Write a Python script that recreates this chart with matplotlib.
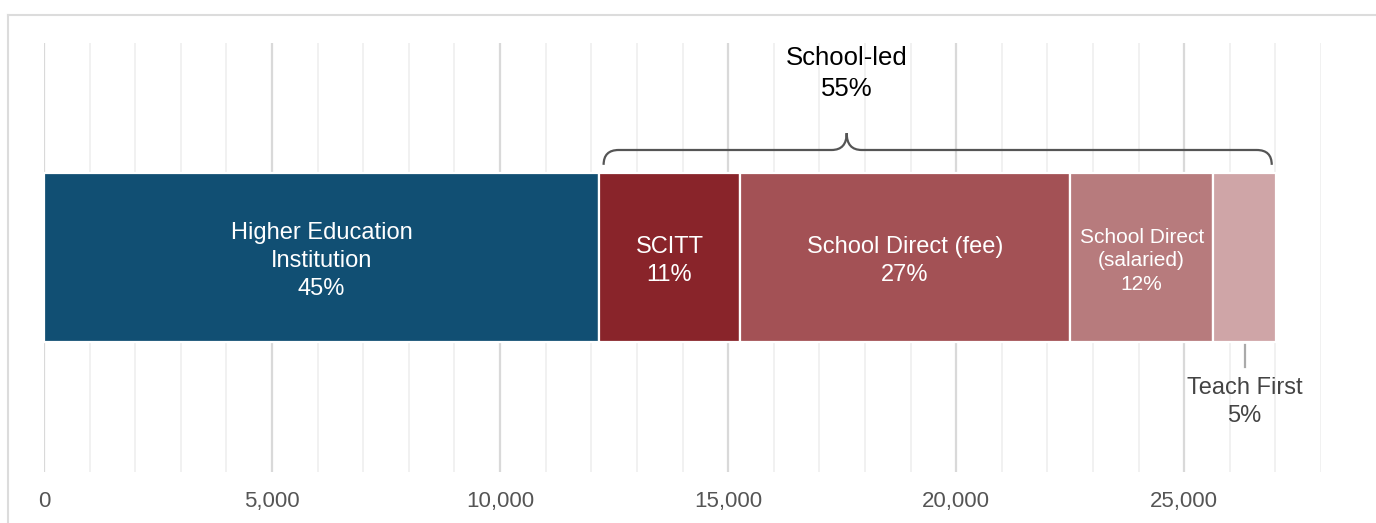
#!/usr/bin/env python3
# -*- coding: utf-8 -*-

#%% Importing the libraries
import numpy as np
import matplotlib.pyplot as plt
from matplotlib.path import Path
from matplotlib.patches import PathPatch
from matplotlib.lines import Line2D

#########################
#%% Data
#########################

routes = ['Higher Education\nInstitution', 'SCITT', 'School Direct (fee)',
          'School Direct\n(salaried)', 'Teach First']
trainees = [12170, 3090, 7240, 3135, 1385]
colours = ['#114f73', '#89242a', '#a35155', '#b77b7d', '#cfa5a7']

group_label = 'School-led'
group_pct = 55

x_ticks = [0, 5000, 10000, 15000, 20000, 25000]

#########################
#%% Figure setup
#########################

plt.rcParams['font.family'] = ['Liberation Sans', 'DejaVu Sans']

fig = plt.figure(figsize=(13.76, 5.23), dpi=100)
ax = fig.add_axes([44/1376, 51/523, 1277/1376, 429/523])
ax.set_xlim(0, 28000)
ax.set_ylim(0, 1)

# grid: light every 1,000, a bit darker every 5,000
ax.set_xticks(x_ticks)
ax.set_xticks(np.arange(0, 28001, 1000), minor=True)
ax.set_xticklabels(['{:,}'.format(t) for t in x_ticks], fontsize=16, color='#555555')
ax.tick_params(axis='x', which='both', length=0, pad=14)
ax.set_yticks([])
ax.grid(axis='x', which='major', color='#d9d9d9', lw=1.6, zorder=0)
ax.grid(axis='x', which='minor', color='#f0f0f0', lw=1.3, zorder=0)
ax.set_axisbelow(True)
for s in ax.spines.values():
    s.set_visible(False)

#########################
#%% Stacked bar
#########################

total = sum(trainees)
left = 0
centres = []
for name, val, col in zip(routes, trainees, colours):
    ax.barh(0.5, val, left=left, height=0.394, color=col,
            edgecolor='white', linewidth=1.6, zorder=2)
    centres.append(left + val / 2)
    left += val

pcts = [round(100 * v / total) for v in trainees]
for i in range(4):
    fs = 15 if i == 3 else 17
    ax.text(centres[i], 0.492, routes[i] + '\n' + str(pcts[i]) + '%',
            ha='center', va='center', color='white', fontsize=fs,
            linespacing=1.36 if i != 3 else 1.28, zorder=3)

# Teach First is too thin, label it underneath
ax.plot([centres[4], centres[4]], [0.296, 0.245], color='#aaaaaa', lw=1.6, zorder=3)
ax.text(centres[4], 0.163, routes[4] + '\n' + str(pcts[4]) + '%',
        ha='center', va='center', color='#444444', fontsize=17, linespacing=1.32)

#########################
#%% Brace over the school-led routes
#########################

x0 = trainees[0] + 100
x1 = total - 100
xm = 17600
yb, yh, yp = 0.716, 0.7506, 0.79
rx = 330
verts = [(x0, yb), (x0, yh), (x0 + rx, yh),
         (xm - rx, yh), (xm, yh), (xm, yp),
         (xm, yh), (xm + rx, yh),
         (x1 - rx, yh), (x1, yh), (x1, yb)]
codes = [Path.MOVETO, Path.CURVE3, Path.CURVE3,
         Path.LINETO, Path.CURVE3, Path.CURVE3,
         Path.CURVE3, Path.CURVE3,
         Path.LINETO, Path.CURVE3, Path.CURVE3]
brace = PathPatch(Path(verts, codes), transform=ax.get_xaxis_transform(),
                  fill=False, edgecolor='#555555', lw=1.6, zorder=3,
                  clip_on=False)
ax.add_patch(brace)
ax.text(xm, 0.928, group_label + '\n' + str(group_pct) + '%', ha='center',
        va='center', color='black', fontsize=18.5, linespacing=1.36)

# frame round the chart
fig.add_artist(Line2D([8/1376, 8/1376], [0, 1 - 15/523], color='#dcdcdc', lw=1.5))
fig.add_artist(Line2D([8/1376, 1], [1 - 15/523, 1 - 15/523], color='#dcdcdc', lw=1.5))

fig.savefig('out.png', dpi=100)
